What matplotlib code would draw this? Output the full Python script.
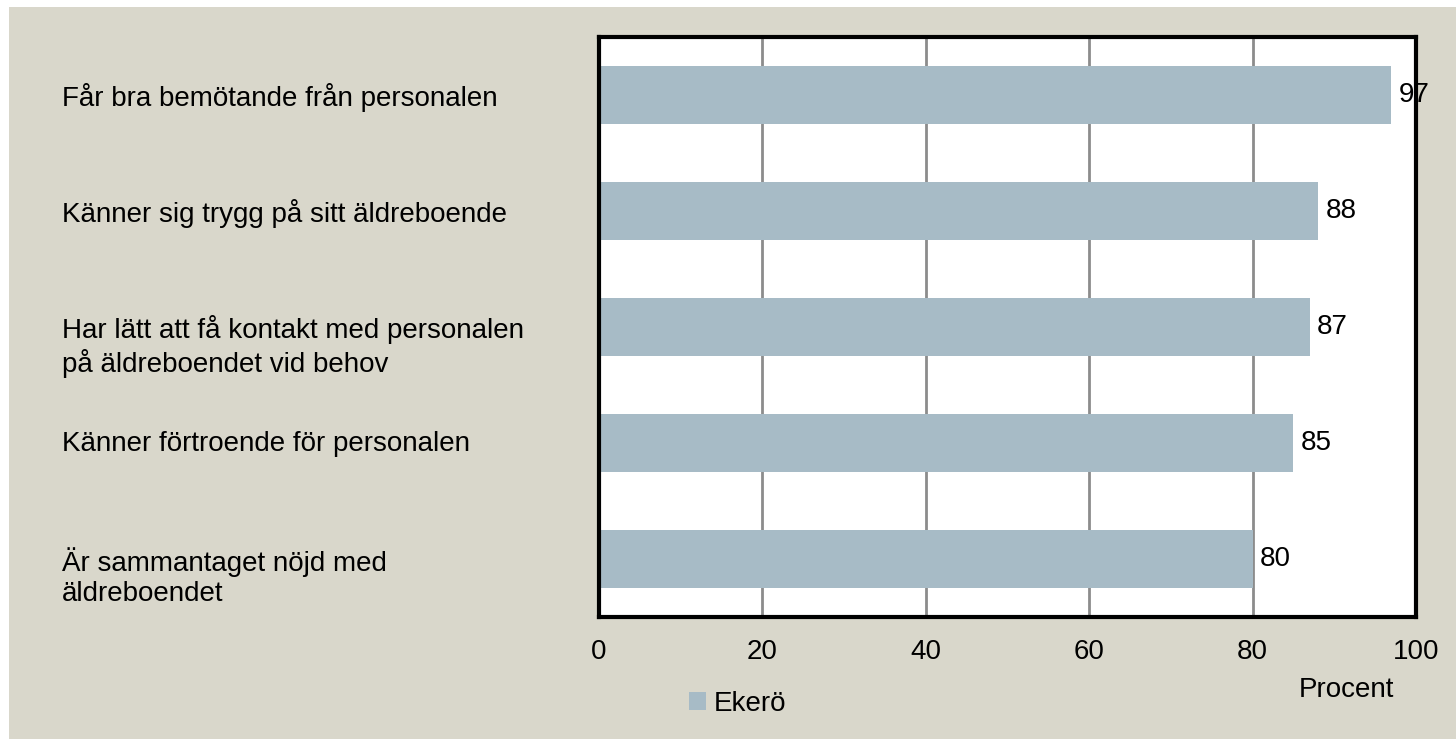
import matplotlib
matplotlib.use("Agg")
import matplotlib.pyplot as plt
from matplotlib.patches import Rectangle

# data
categories = ["Får bra bemötande från personalen",
              "Känner sig trygg på sitt äldreboende",
              "Har lätt att få kontakt med personalen\npå äldreboendet vid behov",
              "Känner förtroende för personalen",
              "Är sammantaget nöjd med\näldreboendet"]
values = [97, 88, 87, 85, 80]
series_name = "Ekerö"
xticks = [0, 20, 40, 60, 80, 100]

BG = "#d9d7cb"
BAR = "#a7bbc6"
FS = 20

plt.rcParams['font.family'] = ['Liberation Sans', 'DejaVu Sans']

fig = plt.figure(figsize=(14.56, 7.39), dpi=100)
fig.patch.set_facecolor("white")
fig.patches.append(Rectangle((9/1456, 0), 1, 1 - 7/739, transform=fig.transFigure,
                             facecolor=BG, edgecolor="none", zorder=-10))

ax = fig.add_axes([599/1456, 1 - 617/739, 817/1456, 580/739])
ax.set_facecolor("white")
ypos = list(range(len(categories)))
ax.barh(ypos, values, height=0.5, color=BAR, zorder=2, label=series_name)
ax.set_xlim(0, 100)
ax.set_ylim(4.5, -0.5)
ax.set_xticks(xticks)
ax.set_xticklabels([str(t) for t in xticks], fontsize=FS)
ax.set_yticks([])
ax.tick_params(axis='x', length=0, pad=16)
ax.grid(axis='x', color="#8c8c8c", lw=2, zorder=1)
for s in ax.spines.values():
    s.set_color("black")
    s.set_linewidth(3)

for y, v in zip(ypos, values):
    ax.text(v + 0.9, y, str(v), va='center', ha='left', fontsize=FS, zorder=1, clip_on=False)

# category labels on the left
trans = matplotlib.transforms.blended_transform_factory(fig.transFigure, ax.transData)
for y, c in zip(ypos, categories):
    fig.text(62/1456, y - 0.10, c, transform=trans, va='top', ha='left', fontsize=FS,
             linespacing=1.2)

fig.text(1346/1456, 1 - 690/739, "Procent", ha='center', va='center', fontsize=FS)
fig.legend(loc='center', bbox_to_anchor=(738/1456, 1 - 704/739), frameon=False,
           fontsize=FS, handlelength=0.6, handleheight=0.6, handletextpad=0.3)

fig.savefig("out.png", dpi=100, facecolor=fig.get_facecolor())
